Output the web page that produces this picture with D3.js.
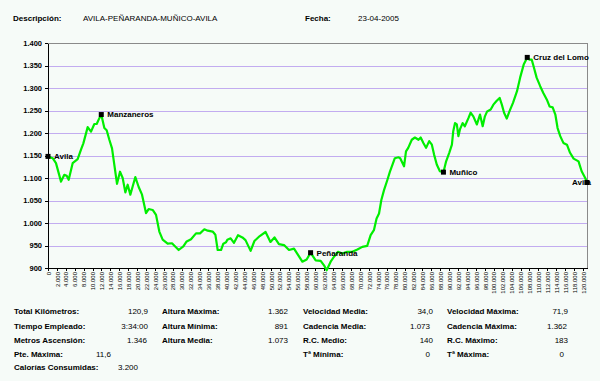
<!DOCTYPE html>
<meta charset="utf-8">
<style>
  body {
    margin: 0;
    background: #f6fbf8;
  }

  svg text {
    font-family: "Liberation Sans", Arial, sans-serif;
    fill: #000;
  }

  .axis path,
  .axis line {
    fill: none;
    stroke: #000;
    shape-rendering: crispEdges;
  }

  .grid line {
    stroke: #c2acf0;
    shape-rendering: crispEdges;
  }

  .profile {
    fill: none;
    stroke: #00ee00;
    stroke-width: 2.2px;
    stroke-linejoin: round;
  }
</style>

<body>
  <div id="svg_frame"></div>
</body>
<script src="https://cdnjs.cloudflare.com/ajax/libs/d3/7.8.5/d3.min.js"></script>

<script>
  // distance (km) and altitude (m)
  var distKm = [0, 1.05, 1.79, 2.92, 3.66, 4.19, 4.64, 5.53, 6.65, 7.4, 7.93, 8.9, 9.65, 10.39, 10.92, 11.52, 11.95,
    12.64, 13.16, 13.76, 14.36, 14.88, 15.48, 16.15, 16.75, 17.35, 17.87, 18.47, 18.99, 19.59, 20.34, 21.09,
    21.98, 22.58, 23.48, 24.23, 24.97, 25.72, 26.84, 27.81, 29.31, 30.36, 31.1, 32.08, 33.2, 34.1, 35.07,
    35.82, 36.94, 37.54, 38.06, 38.81, 39.33, 39.93, 40.23, 40.97, 41.72, 42.62, 43.6, 44.3, 45.45, 46.3,
    47.5, 48.8, 49.9, 50.8, 51.8, 52.94, 54.06, 55.18, 56.08, 57.05, 58.02, 58.9, 60.04, 61.16, 61.91, 62.5,
    63.4, 64.15, 65.05, 66.0, 67.1, 68.27, 69.4, 70.5, 71.6, 72.37, 73.1, 73.7, 74.25, 74.77, 75.37, 76.1,
    76.7, 77.8, 78.6, 79.0, 79.86, 80.3, 80.8, 81.6, 82.3, 83.1, 83.6, 84.2, 84.8, 85.5, 86.1, 86.6, 87.2,
    87.9, 88.7, 89.3, 90.0, 90.6, 90.9, 91.3, 91.7, 92.05, 92.4, 93.0, 93.5, 94.3, 94.8, 95.4, 96.2, 96.9,
    97.5, 98.0, 98.5, 99.3, 99.9, 100.6, 101.3, 101.8, 102.3, 102.9, 103.5, 104.3, 105.2, 105.9, 106.7,
    107.5, 108.0, 108.5, 108.9, 109.6, 110.4, 111.1, 111.9, 112.5, 113.2, 113.8, 114.3, 114.9, 115.6,
    116.4, 117.1, 117.9, 119.0, 119.7, 120.5, 120.9];

  var altitude = [1148, 1144, 1133, 1092, 1107, 1105, 1096, 1133, 1142, 1163, 1177, 1213, 1203, 1220, 1220, 1233, 1241,
    1211, 1206, 1185, 1166, 1129, 1087, 1114, 1100, 1068, 1085, 1063, 1081, 1102, 1080, 1063,
    1022, 1031, 1029, 1018, 981, 963, 954, 955, 940, 948, 959, 964, 977, 977, 986,
    983, 981, 974, 940, 940, 954, 957, 963, 966, 956, 973, 968, 962, 938, 960,
    971, 980, 958, 968, 953, 951, 940, 943, 929, 914, 919, 934, 917, 916, 906, 895,
    914, 925, 936, 932, 936, 936, 941, 947, 949, 973, 984, 1010, 1021, 1051, 1073, 1095,
    1114, 1144, 1146, 1144, 1126, 1159, 1167, 1185, 1190, 1185, 1190, 1178, 1167, 1182, 1174, 1152, 1130,
    1115, 1113, 1137, 1156, 1174, 1204, 1222, 1219, 1193, 1208, 1222, 1215, 1233, 1245, 1237, 1219, 1241,
    1215, 1237, 1248, 1252, 1263, 1271, 1278, 1263, 1245, 1232, 1248, 1267, 1293, 1323, 1352,
    1368, 1363, 1363, 1349, 1323, 1304, 1289, 1274, 1259, 1257, 1241, 1211, 1193, 1178,
    1174, 1156, 1143, 1137, 1115, 1100, 1090];

  // named points along the route
  var placeNames = ["Avila", "Manzaneros", "Peñaranda", "Muñico", "Cruz del Lomo", "Avila"];
  var placeKm = [0, 11.95, 58.9, 88.7, 107.5, 120.9];
  var placeAlt = [1148, 1241, 934, 1113, 1368, 1090];

  var xTicks = d3.range(0, 121, 2);
  var yTicks = d3.range(900, 1401, 50);

  var title = ["Descripción:", "AVILA-PEÑARANDA-MUÑICO-AVILA", "Fecha:", "23-04-2005"];

  // summary table, one array per column
  var col1Labels = ["Total Kilómetros:", "Tiempo Empleado:", "Metros Ascensión:", "Pte. Máxima:", "Calorías Consumidas:"];
  var col1Values = ["120,9", "3:34:00", "1.346", "11,6", "3.200"];
  var col2Labels = ["Altura Máxima:", "Altura Mínima:", "Altura Media:"];
  var col2Values = ["1.362", "891", "1.073"];
  var col3Labels = ["Velocidad Media:", "Cadencia Media:", "R.C. Medio:", "Tª Mínima:"];
  var col3Values = ["34,0", "1.073", "140", "0"];
  var col4Labels = ["Velocidad Máxima:", "Cadencia Máxima:", "R.C.  Máximo:", "Tª Máxima:"];
  var col4Values = ["71,9", "1.362", "183", "0"];

  var width = 600,
    height = 381;

  var plot = { left: 48, right: 587, top: 43, bottom: 268 };

  var es = d3.formatLocale({ decimal: ",", thousands: ".", grouping: [3], currency: ["", " €"] });
  var fmt = es.format(",.0f");

  var x = d3.scaleLinear()
    .domain([0, 120.9])
    .range([plot.left, plot.right]);

  var y = d3.scaleLinear()
    .domain([900, 1400])
    .range([plot.bottom, plot.top]);

  var svg = d3.select("#svg_frame").append("svg")
    .attr("width", width)
    .attr("height", height);

  svg.append("rect")
    .attr("width", width)
    .attr("height", height)
    .attr("fill", "#f6fbf8");

  // header
  var header = svg.append("g").style("font-size", "8px");
  header.append("text").attr("x", 13).attr("y", 21).style("font-weight", "bold").text(title[0]);
  header.append("text").attr("x", 83).attr("y", 21).text(title[1]);
  header.append("text").attr("x", 305).attr("y", 21).style("font-weight", "bold").text(title[2]);
  header.append("text").attr("x", 358).attr("y", 21).text(title[3]);

  // grid
  svg.append("g")
    .attr("class", "grid")
    .selectAll("line")
    .data(yTicks.filter(function (d) { return d > 900 && d < 1400; }))
    .enter().append("line")
    .attr("x1", plot.left)
    .attr("x2", plot.right)
    .attr("y1", function (d) { return Math.round(y(d)) + 0.5; })
    .attr("y2", function (d) { return Math.round(y(d)) + 0.5; });

  svg.append("rect")
    .attr("x", plot.left + 0.5)
    .attr("y", plot.top + 0.5)
    .attr("width", plot.right - plot.left)
    .attr("height", plot.bottom - plot.top)
    .attr("fill", "none")
    .attr("stroke", "#8a8a8a")
    .style("shape-rendering", "crispEdges");

  // axes
  var yAxis = svg.append("g")
    .attr("class", "axis")
    .attr("transform", "translate(" + plot.left + ",0)")
    .call(d3.axisLeft(y).tickValues(yTicks).tickSize(3).tickSizeOuter(0).tickPadding(3).tickFormat(fmt));
  yAxis.selectAll("text")
    .style("font-size", "7.5px")
    .style("font-weight", "bold");

  var xAxis = svg.append("g")
    .attr("class", "axis")
    .attr("transform", "translate(0," + plot.bottom + ")")
    .call(d3.axisBottom(x).tickValues(xTicks).tickSize(3).tickSizeOuter(0)
      .tickFormat(function (d) { return fmt(d * 1000); }));
  xAxis.selectAll("text")
    .attr("transform", "rotate(-90)")
    .attr("x", -4)
    .attr("y", 0)
    .attr("dy", "0.35em")
    .style("text-anchor", "end")
    .style("font-size", "6px");

  // profile line
  var points = distKm.map(function (d, i) { return [d, altitude[i]]; });

  var line = d3.line()
    .x(function (d) { return x(d[0]); })
    .y(function (d) { return y(d[1]); });

  svg.append("path")
    .datum(points)
    .attr("class", "profile")
    .attr("d", line);

  // place labels then markers
  var places = placeNames.map(function (n, i) { return { name: n, km: placeKm[i], alt: placeAlt[i] }; });

  svg.selectAll(".place-label")
    .data(places)
    .enter().append("text")
    .attr("class", "place-label")
    .attr("x", function (d, i) { return i == places.length - 1 ? x(d.km) - 15 : x(d.km) + 6; })
    .attr("y", function (d) { return y(d.alt); })
    .attr("dy", "0.35em")
    .style("font-size", "8px")
    .style("font-weight", "bold")
    .text(function (d) { return d.name; });

  svg.selectAll(".place")
    .data(places)
    .enter().append("rect")
    .attr("class", "place")
    .attr("x", function (d) { return x(d.km) - 2.5; })
    .attr("y", function (d) { return y(d.alt) - 2.5; })
    .attr("width", 5)
    .attr("height", 5)
    .attr("fill", "#000");

  // summary table
  var rowY = [314, 328.5, 342.5, 356.5, 370];

  function tableColumn(labels, values, labelX, valueX) {
    var g = svg.append("g").style("font-size", "8px");
    g.selectAll(".lab")
      .data(labels)
      .enter().append("text")
      .attr("x", labelX)
      .attr("y", function (d, i) { return rowY[i]; })
      .style("font-weight", "bold")
      .text(function (d) { return d; });
    g.selectAll(".val")
      .data(values)
      .enter().append("text")
      .attr("x", function (d, i) { return valueX[i]; })
      .attr("y", function (d, i) { return rowY[i]; })
      .style("text-anchor", "end")
      .text(function (d) { return d; });
  }

  tableColumn(col1Labels, col1Values, 14, [148, 148, 147, 111, 138]);
  tableColumn(col2Labels, col2Values, 162, [288, 288, 288]);
  tableColumn(col3Labels, col3Values, 303, [433, 430, 433, 430]);
  tableColumn(col4Labels, col4Values, 447, [568, 567, 568, 564]);
</script>
